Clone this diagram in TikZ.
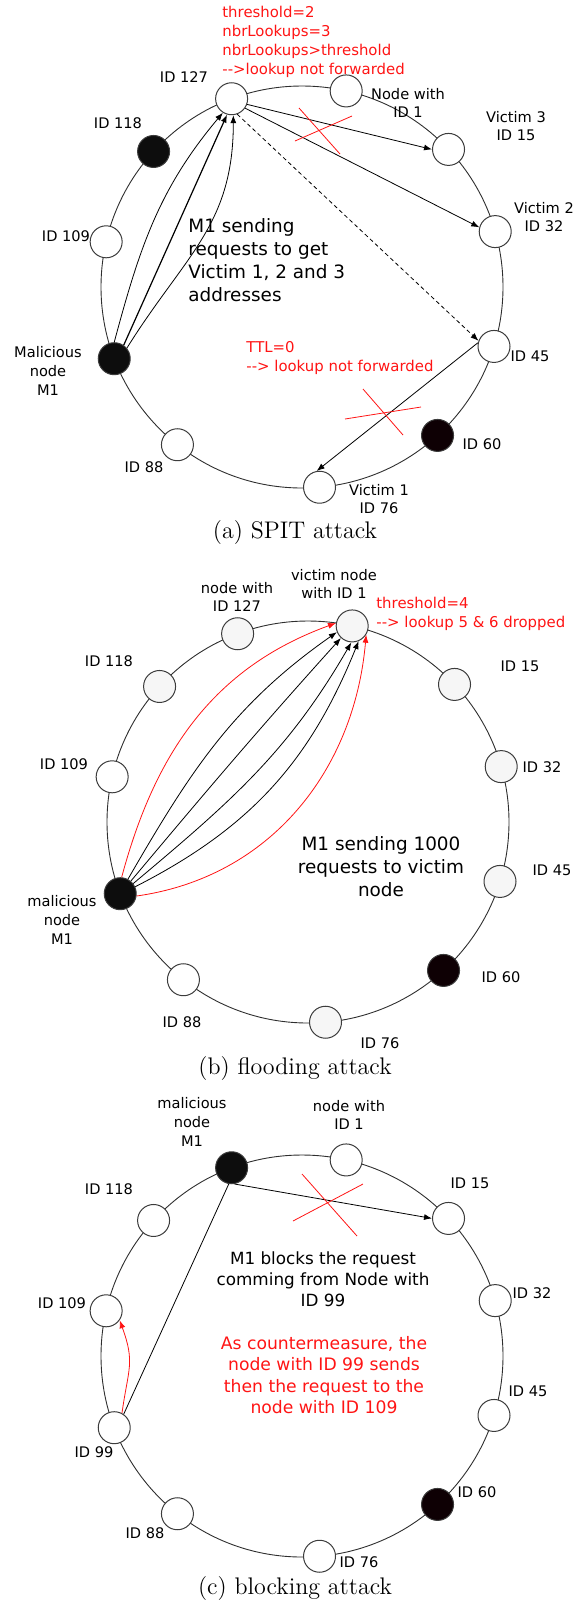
\documentclass[tikz,border=0pt]{standalone}
\usepackage{fontspec}
\setsansfont{DejaVu Sans}
\usetikzlibrary{arrows.meta}
\definecolor{alertred}{HTML}{FF1414}
\definecolor{edgegray}{HTML}{3C3C3C}
\definecolor{ringgray}{HTML}{2E2E2E}
\definecolor{peerfill}{HTML}{F6F6F6}
\definecolor{darkpeer}{HTML}{0E0004}
\begin{document}
\begin{tikzpicture}[x=0.5pt,y=-0.5pt,
  ring/.style={draw=ringgray,line width=0.45pt},
  peer/.style={circle,draw=edgegray,line width=0.5pt,fill=white,minimum size=16pt,inner sep=0pt},
  peergray/.style={peer,fill=peerfill},
  evil/.style={peer,fill=black!95},
  evilred/.style={peer,fill=darkpeer},
  idlabel/.style={font=\sffamily\fontsize{7.3}{9.3}\selectfont,align=center,inner sep=0pt},
  notetext/.style={font=\sffamily\fontsize{9.2}{11.5}\selectfont,inner sep=0pt},
  warntext/.style={font=\sffamily\fontsize{7.45}{9.4}\selectfont,text=alertred,align=left,inner sep=0pt},
  req/.style={draw=black,line width=0.4pt,-{Latex[length=4pt,width=3pt]}},
  crossline/.style={draw=alertred,line width=0.4pt},
  captiontext/.style={font=\fontsize{12}{14}\selectfont,inner sep=0pt}]
\useasboundingbox (0,0) rectangle (587,1602);

% ring centres
\coordinate (ca) at (302,287);
\coordinate (cb) at (308,822);
\coordinate (cc) at (302,1356);

%% ---------------- (a) SPIT attack ----------------
\draw[ring] (ca) circle[radius=100.5pt];
\node[peer]    (a127) at ([shift={(110.5:100.5pt)}]ca) {};
\node[evil]    (a118) at ([shift={(137.6:100.5pt)}]ca) {};
\node[peer]    (a109) at ([shift={(167:100.5pt)}]ca) {};
\node[evil]    (aM1)  at ([shift={(200.9:100.5pt)}]ca) {};
\node[peer]    (a88)  at ([shift={(231.7:100.5pt)}]ca) {};
\node[peer]    (a76)  at ([shift={(275:100.5pt)}]ca) {};
\node[evilred] (a60)  at ([shift={(312.4:100.5pt)}]ca) {};
\node[peer]    (a45)  at ([shift={(342.8:100.5pt)}]ca) {};
\node[peer]    (a32)  at ([shift={(16:100.5pt)}]ca) {};
\node[peer]    (a15)  at ([shift={(43.2:100.5pt)}]ca) {};
\node[peer]    (a1)   at ([shift={(77.3:100.5pt)}]ca) {};

\node[idlabel] (la127) at (184,77) {ID 127};
\node[idlabel] (la118) at (118,123) {ID 118};
\node[idlabel] (la109) at (66,236) {ID 109};
\node[idlabel] (la1)   at (408,103) {Node with\\ID 1};
\node[idlabel] (la15)  at (516,126) {Victim 3\\ID 15};
\node[idlabel] (la32)  at (544,217) {Victim 2\\ID 32};
\node[idlabel] (la45)  at (530,356) {ID 45};
\node[idlabel] (la60)  at (482,444) {ID 60};
\node[idlabel] (la76)  at (379,499) {Victim 1\\ID 76};
\node[idlabel] (la88)  at (144,467) {ID 88};
\node[idlabel] (laM1)  at (48,371) {Malicious\\node\\M1};
\node[notetext,align=left,anchor=west] (anote) at (188,260)
  {M1 sending\\requests to get\\Victim 1, 2 and 3\\addresses};
\node[warntext,anchor=west] (awarn1) at (222,42)
  {threshold=2\\nbrLookups=3\\nbrLookups>threshold\\-{}->lookup not forwarded};
\node[warntext,anchor=west] (awarn2) at (246,358)
  {TTL=0\\-{}-> lookup not forwarded};

% requests from M1 to ID 127
\draw[req] (aM1.90) to[out=75,in=230] (a127.238);
\draw[req,line width=0.6pt] (aM1.55) -- (a127.254);
\draw[req] (aM1.40) to[out=58,in=270,looseness=1.1] (a127.276);
% forwarded lookups
\draw[req] (a127.-20) -- (a15.180);
\draw[req] (a127.-35) -- (a32.165);
\draw[req,dashed,dash pattern=on 2pt off 1.5pt] (a127.-70) -- (a45.160);
\draw[req] (a45.167) -- (a76.100);
% blocked lookups
\draw[crossline] (299,108) -- (340,154);
\draw[crossline] (295,141) -- (352,116);
\draw[crossline] (363,389) -- (403,435);
\draw[crossline] (345,419) -- (421,407);

\node[captiontext] (capa) at (295,533) {(a) SPIT attack};

%% ---------------- (b) flooding attack ----------------
\draw[ring] (cb) circle[radius=100.5pt];
\node[peergray] (b127) at ([shift={(110.5:100.5pt)}]cb) {};
\node[peergray] (b118) at ([shift={(137.6:100.5pt)}]cb) {};
\node[peer]     (b109) at ([shift={(167:100.5pt)}]cb) {};
\node[evil]     (bM1)  at ([shift={(200.9:100.5pt)}]cb) {};
\node[peer]     (b88)  at ([shift={(231.7:100.5pt)}]cb) {};
\node[peergray] (b76)  at ([shift={(275:100.5pt)}]cb) {};
\node[evilred]  (b60)  at ([shift={(312.4:100.5pt)}]cb) {};
\node[peergray] (b45)  at ([shift={(342.8:100.5pt)}]cb) {};
\node[peergray] (b32)  at ([shift={(16:100.5pt)}]cb) {};
\node[peergray] (b15)  at ([shift={(43.2:100.5pt)}]cb) {};
\node[peergray] (b1)   at ([shift={(77.3:100.5pt)}]cb) {};

\node[idlabel] (lb127) at (237,597) {node with\\ID 127};
\node[idlabel] (lb118) at (109,661) {ID 118};
\node[idlabel] (lb109) at (64,764) {ID 109};
\node[idlabel] (lb1)   at (334,584) {victim node\\with ID 1};
\node[idlabel] (lb15)  at (520,666) {ID 15};
\node[idlabel] (lb32)  at (542,767) {ID 32};
\node[idlabel] (lb45)  at (552,870) {ID 45};
\node[idlabel] (lb60)  at (501,977) {ID 60};
\node[idlabel] (lb76)  at (380,1043) {ID 76};
\node[idlabel] (lb88)  at (182,1022) {ID 88};
\node[idlabel] (lbM1)  at (62,920) {malicious\\node\\M1};
\node[notetext,align=center] (bnote) at (381,867)
  {M1 sending 1000\\requests to victim\\node};
\node[warntext,anchor=west] (bwarn) at (376,614)
  {threshold=4\\-{}-> lookup 5 \& 6 dropped};

% flood of lookups towards the victim
\draw[req,draw=alertred] (bM1.85) to[out=75,in=200] (b1.170);
\draw[req] (bM1.62) to[out=60,in=215] (b1.202);
\draw[req] (bM1.50) to[out=50,in=228] (b1.227);
\draw[req] (bM1.38) to[out=40,in=240] (b1.267);
\draw[req] (bM1.25) to[out=27,in=248] (b1.293);
\draw[req,draw=alertred] (bM1.-8) to[out=8,in=265] (b1.328);

\node[captiontext] (capb) at (295,1068) {(b) flooding attack};

%% ---------------- (c) blocking attack ----------------
\draw[ring] (cc) circle[radius=100.5pt];
\node[evil]    (cM1)  at ([shift={(110.5:100.5pt)}]cc) {};
\node[peer]    (c118) at ([shift={(137.6:100.5pt)}]cc) {};
\node[peer]    (c109) at ([shift={(167:100.5pt)}]cc) {};
\node[peer]    (c99)  at ([shift={(200.9:100.5pt)}]cc) {};
\node[peer]    (c88)  at ([shift={(231.7:100.5pt)}]cc) {};
\node[peer]    (c76)  at ([shift={(275:100.5pt)}]cc) {};
\node[evilred] (c60)  at ([shift={(312.4:100.5pt)}]cc) {};
\node[peer]    (c45)  at ([shift={(342.8:100.5pt)}]cc) {};
\node[peer]    (c32)  at ([shift={(16:100.5pt)}]cc) {};
\node[peer]    (c15)  at ([shift={(43.2:100.5pt)}]cc) {};
\node[peer]    (c1)   at ([shift={(77.3:100.5pt)}]cc) {};

\node[idlabel] (lcM1)  at (192,1122) {malicious\\node\\M1};
\node[idlabel] (lc118) at (109,1189) {ID 118};
\node[idlabel] (lc109) at (62,1303) {ID 109};
\node[idlabel] (lc1)   at (349,1115) {node with\\ID 1};
\node[idlabel] (lc15)  at (470,1183) {ID 15};
\node[idlabel] (lc32)  at (532,1293) {ID 32};
\node[idlabel] (lc45)  at (528,1391) {ID 45};
\node[idlabel] (lc60)  at (477,1492) {ID 60};
\node[idlabel] (lc76)  at (359,1562) {ID 76};
\node[idlabel] (lc88)  at (145,1533) {ID 88};
\node[idlabel] (lc99)  at (94,1452) {ID 99};
\node[notetext,align=center,font=\sffamily\fontsize{8.4}{10.5}\selectfont] (cnote) at (323,1279)
  {M1 blocks the request\\comming from Node with\\ID 99};
\node[notetext,align=center,text=alertred,font=\sffamily\fontsize{8.6}{10.6}\selectfont] (cwarn) at (324,1375)
  {As countermeasure, the\\node with ID 99 sends\\then the request to the\\node with ID 109};

\draw[req] (cM1.-80) -- (c15.180);
\draw[line width=0.4pt] (cM1.-100) -- (c99.55);
\draw[req,draw=alertred] (c99.62) to[out=82,in=-70,looseness=1.25] (c109.-35);
\draw[crossline] (302,1174) -- (357,1236);
\draw[crossline] (293,1221) -- (363,1184);

\node[captiontext] (capc) at (295,1588) {(c) blocking attack};
\end{tikzpicture}
\end{document}
